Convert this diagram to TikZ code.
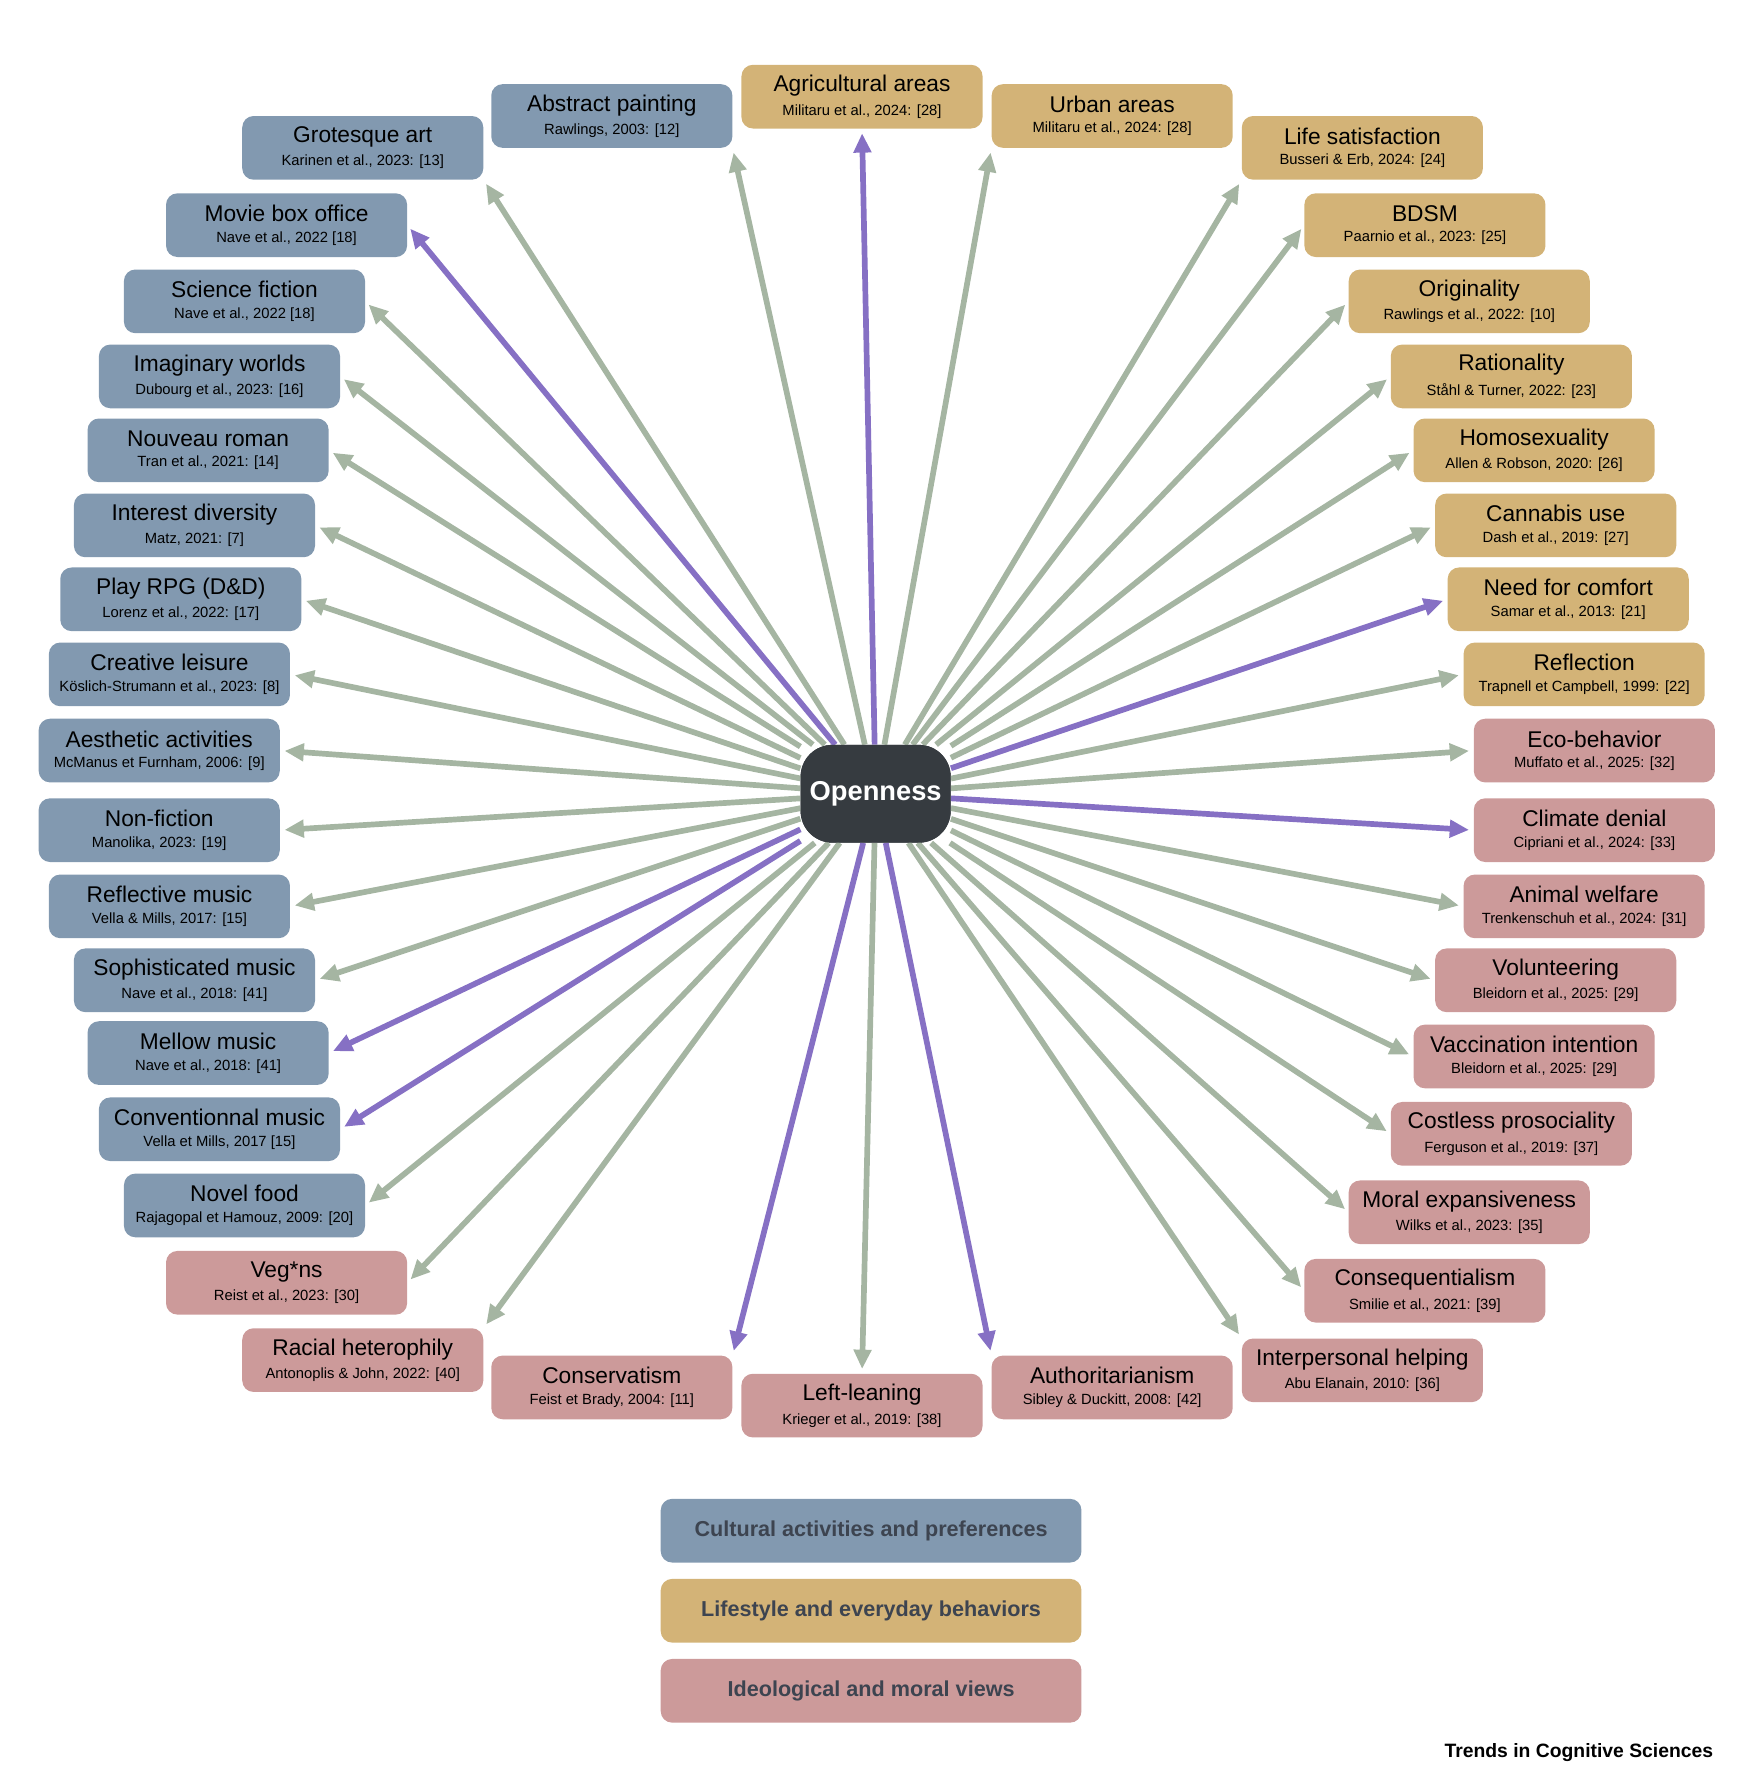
\documentclass[tikz,border=0pt]{standalone}
\usepackage{fontspec}
\setmainfont{Liberation Sans}
\usetikzlibrary{arrows.meta,positioning}

\definecolor{culture}{HTML}{8299B0}
\definecolor{lifestyle}{HTML}{D3B377}
\definecolor{moral}{HTML}{CC9A9A}
\definecolor{hub}{HTML}{363B40}
\definecolor{linkgray}{HTML}{A5B5A2}
\definecolor{linkpurple}{HTML}{8670C4}
\definecolor{legendtext}{HTML}{3D4450}

\tikzset{
  item/.style={fill=#1, rounded corners=10pt, minimum width=212pt, minimum height=56pt,
    align=center, inner sep=2pt},
  hubnode/.style={fill=hub, rounded corners=28pt, minimum width=132pt, minimum height=86pt,
    text=white, font=\bfseries\fontsize{24}{26}\selectfont},
  legend/.style={fill=#1, rounded corners=10pt, minimum width=370pt, minimum height=56pt,
    text=legendtext, font=\bfseries\fontsize{19}{21}\selectfont},
  link/.style={draw=#1, line width=5pt, -{Triangle[length=17pt,width=15pt]}, shorten >=4pt}
}

\newcommand\itemtext[2]{{\fontsize{20}{23}\selectfont #1}\\[6pt]{\fontsize{13}{15}\selectfont #2}}

\begin{document}
\begin{tikzpicture}[x=1pt,y=-1pt]
    \useasboundingbox (0,0) rectangle (1549,1567);

    % Centre
    \node [hubnode] (open) at (770,698) {Openness};

    % Outcomes
    \foreach \x/\y/\col/\arr/\tip/\title/\ref [count=\i] in {
      319/130/culture/linkgray/south east/{Grotesque art}/{Karinen et al., 2023: [13]},
      538/102/culture/linkgray/south east/{Abstract painting}/{Rawlings, 2003: [12]},
      758/85/lifestyle/linkpurple/south/{Agricultural areas}/{Militaru et al., 2024: [28]},
      978/102/lifestyle/linkgray/south west/{Urban areas}/{Militaru et al., 2024: [28]},
      1198/130/lifestyle/linkgray/south west/{Life satisfaction}/{Busseri \& Erb, 2024: [24]},
      252/198/culture/linkpurple/east/{Movie box office}/{Nave et al., 2022 [18]},
      1253/198/lifestyle/linkgray/west/{BDSM}/{Paarnio et al., 2023: [25]},
      215/265/culture/linkgray/east/{Science fiction}/{Nave et al., 2022 [18]},
      1292/265/lifestyle/linkgray/west/{Originality}/{Rawlings et al., 2022: [10]},
      193/331/culture/linkgray/east/{Imaginary worlds}/{Dubourg et al., 2023: [16]},
      1329/331/lifestyle/linkgray/west/{Rationality}/{Ståhl \& Turner, 2022: [23]},
      183/396/culture/linkgray/east/{Nouveau roman}/{Tran et al., 2021: [14]},
      1349/396/lifestyle/linkgray/west/{Homosexuality}/{Allen \& Robson, 2020: [26]},
      171/462/culture/linkgray/east/{Interest diversity}/{Matz, 2021: [7]},
      1368/462/lifestyle/linkgray/west/{Cannabis use}/{Dash et al., 2019: [27]},
      159/527/culture/linkgray/east/{Play RPG (D\&D)}/{Lorenz et al., 2022: [17]},
      1379/527/lifestyle/linkpurple/west/{Need for comfort}/{Samar et al., 2013: [21]},
      149/593/culture/linkgray/east/{Creative leisure}/{Köslich-Strumann et al., 2023: [8]},
      1393/593/lifestyle/linkgray/west/{Reflection}/{Trapnell et Campbell, 1999: [22]},
      140/660/culture/linkgray/east/{Aesthetic activities}/{McManus et Furnham, 2006: [9]},
      1402/660/moral/linkgray/west/{Eco-behavior}/{Muffato et al., 2025: [32]},
      140/730/culture/linkgray/east/{Non-fiction}/{Manolika, 2023: [19]},
      1402/730/moral/linkpurple/west/{Climate denial}/{Cipriani et al., 2024: [33]},
      149/797/culture/linkgray/east/{Reflective music}/{Vella \& Mills, 2017: [15]},
      1393/797/moral/linkgray/west/{Animal welfare}/{Trenkenschuh et al., 2024: [31]},
      171/862/culture/linkgray/east/{Sophisticated music}/{Nave et al., 2018: [41]},
      1368/862/moral/linkgray/west/{Volunteering}/{Bleidorn et al., 2025: [29]},
      183/926/culture/linkpurple/east/{Mellow music}/{Nave et al., 2018: [41]},
      1349/929/moral/linkgray/west/{Vaccination intention}/{Bleidorn et al., 2025: [29]},
      193/993/culture/linkpurple/east/{Conventionnal music}/{Vella et Mills, 2017 [15]},
      1329/997/moral/linkgray/west/{Costless prosociality}/{Ferguson et al., 2019: [37]},
      215/1060/culture/linkgray/east/{Novel food}/{Rajagopal et Hamouz, 2009: [20]},
      1292/1066/moral/linkgray/west/{Moral expansiveness}/{Wilks et al., 2023: [35]},
      252/1128/moral/linkgray/east/{Veg*ns}/{Reist et al., 2023: [30]},
      1253/1135/moral/linkgray/west/{Consequentialism}/{Smilie et al., 2021: [39]},
      319/1196/moral/linkgray/north east/{Racial heterophily}/{Antonoplis \& John, 2022: [40]},
      1198/1205/moral/linkgray/north west/{Interpersonal helping}/{Abu Elanain, 2010: [36]},
      538/1220/moral/linkpurple/north east/{Conservatism}/{Feist et Brady, 2004: [11]},
      758/1236/moral/linkgray/north/{Left-leaning}/{Krieger et al., 2019: [38]},
      978/1220/moral/linkpurple/north west/{Authoritarianism}/{Sibley \& Duckitt, 2008: [42]}}
    {
      \node [item=\col] (out\i) at (\x,\y) {\itemtext{\title}{\ref}};
      \draw [link=\arr] (open) -- (out\i.\tip);
    }
    \node [hubnode] at (open) {Openness};

    % Legend
    \node [legend=culture] (legC) at (766,1346) {Cultural activities and preferences};
    \node [legend=lifestyle, below=14pt of legC] (legL) {Lifestyle and everyday behaviors};
    \node [legend=moral, below=14pt of legL] (legM) {Ideological and moral views};

    \node [font=\bfseries\fontsize{17}{19}\selectfont, anchor=east] (brand) at (1510,1541)
      {Trends in Cognitive Sciences};
\end{tikzpicture}
\end{document}
